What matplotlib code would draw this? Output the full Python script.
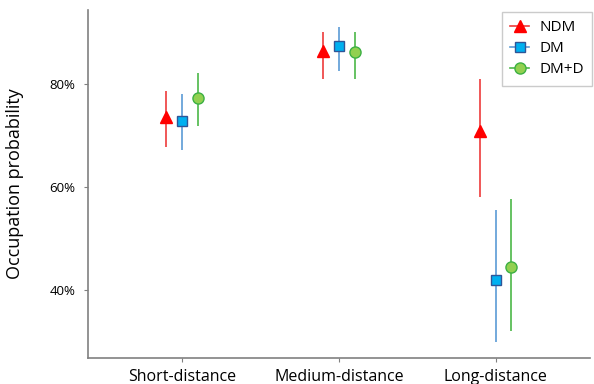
import numpy as np
import matplotlib
matplotlib.use("Agg")
import matplotlib.pyplot as plt
from matplotlib.lines import Line2D
from matplotlib.ticker import FuncFormatter

plt.rcParams.update({"font.family": ["Open Sans", "DejaVu Sans"]})

categories = ["Short-distance", "Medium-distance", "Long-distance"]
models = ["NDM", "DM", "DM+D"]

# estimates and 95% intervals (proportions)
est = {
    "NDM":  [0.736, 0.864, 0.709],
    "DM":   [0.728, 0.874, 0.419],
    "DM+D": [0.773, 0.862, 0.445],
}
lower = {
    "NDM":  [0.677, 0.810, 0.581],
    "DM":   [0.672, 0.825, 0.299],
    "DM+D": [0.718, 0.810, 0.320],
}
upper = {
    "NDM":  [0.786, 0.901, 0.810],
    "DM":   [0.781, 0.911, 0.555],
    "DM+D": [0.821, 0.901, 0.577],
}

style = {
    "NDM":  dict(marker="^", mfc="#FF0000", mec="#FF0000", ecolor="#EE3B3B", ms=8.5),
    "DM":   dict(marker="s", mfc="#00B0F0", mec="#2F5597", ecolor="#5B9BD5", ms=7),
    "DM+D": dict(marker="o", mfc="#92D050", mec="#3CB043", ecolor="#4CB848", ms=8),
}
offsets = {"NDM": -0.1, "DM": 0.0, "DM+D": 0.1}

fig = plt.figure(figsize=(5.94, 3.84), dpi=100)
ax = fig.add_axes([0.148, 0.068, 0.845, 0.906])

x = np.arange(len(categories))
for m in models:
    e = np.array(est[m]); lo = np.array(lower[m]); hi = np.array(upper[m])
    s = style[m]
    ax.errorbar(x + offsets[m], e, yerr=[e - lo, hi - e], fmt="none",
                ecolor=s["ecolor"], elinewidth=1.2, capsize=0, zorder=2)
    ax.plot(x + offsets[m], e, linestyle="none", marker=s["marker"], ms=s["ms"],
            mfc=s["mfc"], mec=s["mec"], mew=1.0, zorder=3)

ax.set_xlim(-0.6, 2.6)
ax.set_ylim(0.268, 0.944)
ax.set_yticks([0.4, 0.6, 0.8])
ax.yaxis.set_major_formatter(FuncFormatter(lambda v, p: f"{v*100:.0f}%"))
ax.set_xticks(x)
ax.set_xticklabels(categories, fontsize=11.5)
ax.tick_params(axis="y", labelsize=9.5, length=3, color="#808080", pad=6)
ax.tick_params(axis="x", length=3, color="#808080", pad=5)
ax.set_ylabel("Occupation probability", fontsize=13, labelpad=18)

for sp in ["top", "right"]:
    ax.spines[sp].set_visible(False)
for sp in ["left", "bottom"]:
    ax.spines[sp].set_color("#808080")
    ax.spines[sp].set_linewidth(1.2)

handles = [Line2D([], [], color=style[m]["ecolor"], lw=1.2, marker=style[m]["marker"],
                  ms=style[m]["ms"], mfc=style[m]["mfc"], mec=style[m]["mec"], label=m)
           for m in models]
leg = ax.legend(handles=handles, loc="upper left", bbox_to_anchor=(0.822, 1.0),
                fontsize=11, frameon=True, fancybox=False, handlelength=1.2,
                borderpad=0.55, labelspacing=0.4, handletextpad=0.7, borderaxespad=0.1)
leg.get_frame().set_edgecolor("#BFBFBF")
leg.get_frame().set_linewidth(1.0)

fig.savefig("out.png", dpi=100)
